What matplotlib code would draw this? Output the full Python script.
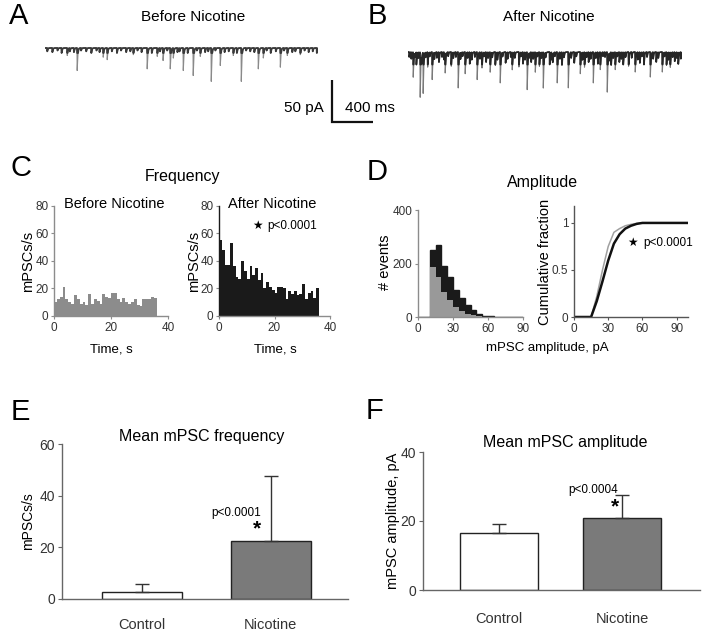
import numpy as np
import matplotlib
matplotlib.use('Agg')
import matplotlib.pyplot as plt

plt.rcParams['font.family'] = ['Liberation Sans', 'DejaVu Sans']

# ---------------- data ----------------
# Panel A/B traces: events (time ms, amplitude pA)
A_event_t = [215, 312, 566, 605, 860, 995, 1093, 1150, 1220, 1250, 1347, 1444, 1513, 1620, 1708, 1835, 1913, 2079, 2128, 2294, 2362, 2489]
A_event_amp = [9, 27, 11, 14, 8, 25, 10, 15, 25, 12, 27, 33, 10, 40, 21, 9, 40, 25, 12, 23, 9, 8]
A_small_t = [20, 70, 120, 160, 240, 280, 350, 400, 450, 500, 530, 650, 700, 740, 790, 830, 900, 940, 1040, 1120, 1190, 1290, 1310, 1390, 1480, 1560, 1590, 1660, 1750, 1790, 1870, 1960, 2000, 2040, 2160, 2200, 2250, 2330, 2410, 2440, 2530, 2570, 2610, 2650]
A_small_amp = [4, 5, 3, 6, 4, 5, 3, 4, 6, 3, 5, 4, 6, 3, 5, 4, 3, 5, 6, 4, 3, 5, 4, 6, 3, 5, 4, 3, 5, 4, 6, 3, 4, 5, 3, 6, 4, 3, 5, 4, 3, 5, 4, 6]

B_event_t = [49, 117, 146, 234, 361, 488, 556, 673, 800, 898, 1015, 1161, 1240, 1318, 1454, 1562, 1679, 1806, 1874, 1942, 2020, 2098, 2215, 2362, 2479, 2557, 2635]
B_event_amp = [30, 54, 49, 33, 24, 43, 26, 33, 24, 37, 21, 45, 24, 43, 37, 43, 26, 37, 21, 48, 21, 15, 24, 30, 24, 18, 14]
B_med_t = [80, 190, 300, 420, 600, 720, 760, 850, 950, 1080, 1120, 1200, 1280, 1380, 1410, 1500, 1620, 1720, 1760, 1850, 1980, 2060, 2150, 2260, 2300, 2420, 2520, 2600]
B_med_amp = [15, 18, 12, 17, 14, 19, 12, 16, 13, 18, 14, 12, 17, 15, 11, 16, 13, 18, 12, 14, 16, 12, 17, 13, 15, 12, 16, 11]
B_small_t = [10, 30, 65, 100, 130, 170, 210, 255, 280, 330, 350, 390, 440, 465, 510, 530, 580, 620, 650, 700, 740, 780, 820, 870, 920, 970, 1000, 1040, 1100, 1140, 1180, 1220, 1260, 1300, 1340, 1400, 1430, 1480, 1520, 1590, 1640, 1700, 1740, 1780, 1830, 1900, 1920, 1960, 2000, 2040, 2080, 2120, 2180, 2240, 2280, 2330, 2390, 2440, 2500, 2540, 2580, 2620, 2660]
B_small_amp = [6, 8, 5, 7, 9, 6, 5, 8, 7, 6, 9, 5, 7, 6, 8, 5, 7, 9, 6, 8, 5, 7, 6, 9, 5, 8, 6, 7, 5, 9, 6, 8, 5, 7, 6, 9, 5, 8, 6, 7, 5, 9, 6, 8, 7, 5, 6, 9, 7, 5, 8, 6, 7, 9, 5, 6, 8, 7, 5, 9, 6, 7, 8]

scale_pA = 50
scale_ms = 400

# Panel C: frequency histograms (mPSCs/s per 1-s bin)
freq_before = [10, 12, 14, 21, 12, 10, 9, 15, 12, 9, 10, 8, 16, 9, 12, 11, 9, 16, 14, 13, 17, 17, 12, 10, 13, 10, 9, 10, 12, 8, 7, 12, 12, 12, 14, 13]
freq_after = [55, 48, 37, 37, 53, 36, 28, 27, 40, 33, 27, 36, 30, 35, 26, 31, 20, 25, 21, 19, 17, 21, 21, 20, 12, 18, 16, 18, 15, 16, 23, 12, 17, 18, 13, 20]

# Panel D: amplitude histograms (5 pA bins from 0 to 90)
amp_edges = list(range(0, 95, 5))
amp_nicotine = [0, 0, 250, 270, 192, 150, 100, 70, 45, 25, 12, 5, 2, 0, 0, 0, 0, 0]
amp_control = [0, 0, 188, 150, 95, 65, 38, 22, 12, 6, 2, 0, 0, 0, 0, 0, 0, 0]
cum_x = [0, 15, 20, 25, 30, 35, 40, 45, 50, 55, 60, 70, 80, 100]
cum_control = [0, 0, 0.22, 0.50, 0.75, 0.90, 0.94, 0.97, 0.985, 0.995, 1, 1, 1, 1]
cum_nicotine = [0, 0, 0.17, 0.38, 0.60, 0.78, 0.88, 0.94, 0.97, 0.99, 1, 1, 1, 1]

# Panels E/F: means with upper SD
groups = ['Control', 'Nicotine']
mean_freq = [2.7, 22.4]
sd_freq = [3.0, 25.2]
mean_amp = [16.5, 20.9]
sd_amp = [2.6, 6.6]

# ---------------- figure ----------------
W, H = 705, 638
fig = plt.figure(figsize=(W / 100, H / 100), dpi=100)


def add_ax(x0, y0, x1, y1):
    return fig.add_axes([x0 / W, 1 - y1 / H, (x1 - x0) / W, (y1 - y0) / H])


def ftext(x, y, s, **kw):
    kw.setdefault('ha', 'center')
    kw.setdefault('va', 'center')
    fig.text(x / W, 1 - y / H, s, **kw)


def style(ax, color='#777777', lsize=8):
    for s in ('top', 'right'):
        ax.spines[s].set_visible(False)
    for s in ('left', 'bottom'):
        ax.spines[s].set_color(color)
        ax.spines[s].set_linewidth(1.0)
    ax.tick_params(colors=color, labelcolor='#333333', labelsize=lsize, length=2, width=0.8, pad=2)


MS_PER_PX = scale_ms / 41.0
PA_PER_PX = scale_pA / 42.0


def trace(t_end, times, amps):
    t = np.arange(0, t_end, 1.0)
    y = np.zeros_like(t)
    tr, td = 0.8, 5.0
    tp = tr * td / (td - tr) * np.log(td / tr)
    norm = np.exp(-tp / td) - np.exp(-tp / tr)
    for t0, a in zip(times, amps):
        s = t - t0
        m = s >= 0
        y[m] -= a * (np.exp(-s[m] / td) - np.exp(-s[m] / tr)) / norm
    return t, y


# Trace A
axA = add_ax(45, 38, 318, 92)
tA, yA = trace(273 * MS_PER_PX, A_event_t + A_small_t, A_event_amp + A_small_amp)
axA.plot(tA, yA, color='#8a8a8a', lw=0.8)
axA.plot(tA, np.clip(yA, -6, None), color='#3a3a3a', lw=1.3)
axA.set_xlim(0, 273 * MS_PER_PX)
axA.set_ylim(-(92 - 48) * PA_PER_PX, (48 - 38) * PA_PER_PX)
axA.axis('off')

# Trace B
axB = add_ax(408, 38, 682, 102)
tB, yB = trace(274 * MS_PER_PX, B_event_t + B_med_t + B_small_t, B_event_amp + B_med_amp + B_small_amp)
axB.plot(tB, yB, color='#7a7a7a', lw=0.8)
axB.plot(tB, np.clip(yB, -15, None), color='#262626', lw=1.2)
axB.set_xlim(0, 274 * MS_PER_PX)
axB.set_ylim(-(102 - 52) * PA_PER_PX, (52 - 38) * PA_PER_PX)
axB.axis('off')

# Scale bar
axS = add_ax(327, 75, 385, 127)
axS.plot([0, 0, scale_ms], [scale_pA, 0, 0], color='#111111', lw=1.6, solid_capstyle='butt', solid_joinstyle='miter')
axS.set_xlim(-5 * MS_PER_PX, 53 * MS_PER_PX)
axS.set_ylim(-5 * PA_PER_PX, 47 * PA_PER_PX)
axS.axis('off')
ftext(324, 108, '50 pA', ha='right', fontsize=11)
ftext(345, 108, '400 ms', ha='left', fontsize=11)

ftext(193, 17, 'Before Nicotine', fontsize=11)
ftext(549, 17, 'After Nicotine', fontsize=11)
ftext(19, 16, 'A', fontsize=21)
ftext(377, 16, 'B', fontsize=21)

# Panel C
ftext(21, 168, 'C', fontsize=21)
ftext(183, 176, 'Frequency', fontsize=11.5)
bins_C = np.arange(len(freq_before))
axC1 = add_ax(54, 206, 168, 316)
axC1.bar(bins_C, freq_before, width=1, align='edge', color='#8c8c8c', linewidth=0)
axC1.set_xlim(0, 40)
axC1.set_ylim(0, 80)
axC1.set_yticks([0, 20, 40, 60, 80])
axC1.set_xticks([0, 20, 40])
style(axC1, '#8c8c8c', 8.5)
axC2 = add_ax(219, 206, 330, 316)
axC2.bar(bins_C, freq_after, width=1, align='edge', color='#1a1a1a', linewidth=0)
axC2.set_xlim(0, 40)
axC2.set_ylim(0, 80)
axC2.set_yticks([0, 20, 40, 60, 80])
axC2.set_xticks([0, 20, 40])
style(axC2, '#8c8c8c', 8.5)
axC2.spines['left'].set_color('#1a1a1a')
ftext(114, 204, 'Before Nicotine', fontsize=10.5)
ftext(272, 204, 'After Nicotine', fontsize=10.5)
ftext(257, 226, '★', fontsize=8.5)
ftext(267, 226, 'p<0.0001', ha='left', fontsize=8.5)
ftext(28, 261, 'mPSCs/s', rotation=90, fontsize=10.5)
ftext(194, 261, 'mPSCs/s', rotation=90, fontsize=10.5)
ftext(111, 350, 'Time, s', fontsize=9.5)
ftext(275, 350, 'Time, s', fontsize=9.5)

# Panel D
ftext(377, 172, 'D', fontsize=21)
ftext(543, 183, 'Amplitude', fontsize=11.5)
axD1 = add_ax(418, 210, 523, 317)
axD1.stairs(amp_nicotine, amp_edges, fill=True, facecolor='#1a1a1a', edgecolor='#1a1a1a', lw=1)
axD1.stairs(amp_control, amp_edges, fill=True, facecolor='#999999', edgecolor='none', lw=0)
axD1.set_xlim(0, 90)
axD1.set_ylim(0, 400)
axD1.set_xticks([0, 30, 60, 90])
axD1.set_yticks([0, 200, 400])
style(axD1, '#8c8c8c', 8.5)
ftext(385, 262, '# events', rotation=90, fontsize=10.5)

axD2 = add_ax(574, 206, 688, 317)
axD2.plot(cum_x, cum_control, color='#a0a0a0', lw=1.1)
axD2.plot(cum_x, cum_nicotine, color='#111111', lw=1.8)
axD2.set_xlim(0, 100)
axD2.set_ylim(0, 1.18)
axD2.set_xticks([0, 30, 60, 90])
axD2.set_yticks([0, 0.5, 1])
axD2.set_yticklabels(['0', '0.5', '1'])
style(axD2, '#555555', 8.5)
ftext(545, 262, 'Cumulative fraction', rotation=90, fontsize=10.5)
ftext(632, 243, '★', fontsize=8.5)
ftext(643, 243, 'p<0.0001', ha='left', fontsize=8.5)
ftext(547, 348, 'mPSC amplitude, pA', fontsize=9.5)

# Panel E
ftext(20, 412, 'E', fontsize=21)
ftext(202, 436, 'Mean mPSC frequency', fontsize=11.5)
axE = add_ax(62, 444, 348, 599)
xpos = np.arange(len(groups))
axE.bar(xpos, mean_freq, width=0.62, color=['white', '#7a7a7a'], edgecolor='#222222', linewidth=1)
axE.errorbar(xpos, mean_freq, yerr=[[0, 0], sd_freq], fmt='none', ecolor='#333333', elinewidth=1, capsize=5, capthick=1)
axE.set_xlim(-0.62, 1.6)
axE.set_ylim(0, 60)
axE.set_yticks([0, 20, 40, 60])
axE.set_xticks(xpos)
axE.set_xticklabels(groups)
style(axE, '#666666', 10)
axE.tick_params(axis='x', length=0, pad=14, labelsize=10.5)
axE.tick_params(axis='y', length=3)
ftext(28, 521, 'mPSCs/s', rotation=90, fontsize=10)
ftext(236, 513, 'p<0.0001', fontsize=8.5)
ftext(257, 529, '*', fontsize=15, fontweight='bold')

# Panel F
ftext(374, 411, 'F', fontsize=21)
ftext(565, 443, 'Mean mPSC amplitude', fontsize=11.5)
axF = add_ax(423, 452, 700, 590)
axF.bar(xpos, mean_amp, width=0.63, color=['white', '#7a7a7a'], edgecolor='#222222', linewidth=1)
axF.errorbar(xpos, mean_amp, yerr=[[0, 0], sd_amp], fmt='none', ecolor='#333333', elinewidth=1, capsize=5, capthick=1)
axF.set_xlim(-0.615, 1.63)
axF.set_ylim(0, 40)
axF.set_yticks([0, 20, 40])
axF.set_xticks(xpos)
axF.set_xticklabels(groups)
style(axF, '#666666', 10)
axF.tick_params(axis='x', length=0, pad=16, labelsize=10.5)
axF.tick_params(axis='y', length=3)
ftext(393, 521, 'mPSC amplitude, pA', rotation=90, fontsize=10.5)
ftext(593, 490, 'p<0.0004', fontsize=8.5)
ftext(615, 507, '*', fontsize=15, fontweight='bold')

fig.savefig('out.png', dpi=100, facecolor='white')
